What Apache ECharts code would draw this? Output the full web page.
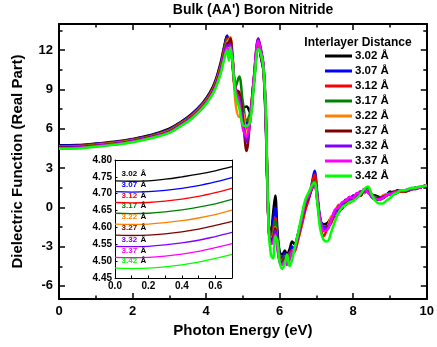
<!DOCTYPE html>
<html><head><meta charset="utf-8">
<script src="https://cdn.jsdelivr.net/npm/echarts@6/dist/echarts.min.js"></script>
<style>html,body{margin:0;padding:0;background:#fff}#c{width:437px;height:347px}</style>
</head><body><div id="c"></div>
<script>
const seriesNames = ['3.02 Å','3.07 Å','3.12 Å','3.17 Å','3.22 Å','3.27 Å','3.32 Å','3.37 Å','3.42 Å'];
const seriesShort = ['3.02','3.07','3.12','3.17','3.22','3.27','3.32','3.37','3.42'];
const colors = ['#000000','#0000ff','#ff0000','#008000','#ff8000','#800000','#8000ff','#ff00ff','#00ff00'];

const energy = [0,0.5,1,1.5,2,2.5,3, 3.3,3.6,3.9,4.1,4.25,4.4,4.5, 4.57,4.62,4.66,4.72,4.8,4.9,5.0,
  5.1,5.2,5.3,5.42,5.5,5.56,5.62, 5.7,5.76,5.82,5.88,5.94,6.0,6.07, 6.14,6.2,6.27,6.34,6.4,6.5,6.6,
  6.7,6.8,6.88,6.95,7.02,7.1,7.2, 7.3,7.4,7.5,7.6,7.7,7.8,7.9, 8.0,8.1,8.2,8.3,8.4,8.5,8.6,
  8.7,8.8,8.9,9.0,9.1,9.2,9.3, 9.4,9.5,9.6,9.7,9.8,9.9,10];

const eps302 = [4.74,4.76,4.87,5.01,5.22,5.52,6.00, 6.50,7.12,7.95,8.75,9.65,11.1,12.4, 13.1,12.5,12.6,11.0,8.8,8.0,7.6,
  7.7,7.2,9.5,12.5,11.3,10.4,6.5, -1.2,-2.0,-0.5,0.9,-1.8,-3.4,-3.6, -3.3,-3.6,-3.2,-2.6,-2.8,-2.0,-0.8,
  0.4,0.9,1.6,2.2,0.8,-1.0,-1.3, -1.2,-0.8,-0.7,-0.2,-0.1,0.4,0.5, 0.8,0.8,1.2,1.1,1.5,1.0,0.9,
  0.8,0.7,0.9,1.2,1.1,1.3,1.2, 1.2,1.3,1.4,1.5,1.5,1.6,1.7];
const eps307 = [4.71,4.72,4.84,4.98,5.19,5.49,5.96, 6.46,7.07,7.9,8.68,9.55,10.95,12.3, 13.1,12.4,12.5,10.8,8.9,8.6,7.4,
  6.4,7.0,9.6,12.5,11.4,10.5,6.8, -1.3,-2.3,-1.0,0.0,-2.2,-3.6,-3.9, -3.5,-3.8,-3.4,-3.0,-3.2,-2.3,-1.2,
  0.0,0.8,1.9,2.8,1.2,-0.8,-1.5, -1.4,-1.0,-0.4,-0.4,0.2,0.2,0.6, 0.5,1.0,0.9,1.4,1.3,0.9,0.6,
  0.6,0.7,1.0,1.1,1.0,1.1,1.3, 1.2,1.3,1.4,1.4,1.5,1.6,1.7];
const eps312 = [4.67,4.69,4.81,4.95,5.16,5.46,5.92, 6.42,7.02,7.85,8.62,9.5,10.85,12.2, 12.9,12.5,12.6,10.9,8.7,8.5,7.0,
  6.0,7.1,9.7,12.6,11.5,10.5,7.0, -1.5,-2.5,-1.8,-0.8,-2.6,-3.9,-4.0, -3.7,-4.0,-3.5,-3.3,-3.4,-2.5,-1.4,
  -0.2,0.7,1.8,2.5,1.0,-1.2,-2.2, -1.6,-1.2,-0.6,-0.4,0.1,0.2,0.6, 0.5,0.9,0.9,1.3,1.2,0.8,0.6,
  0.6,0.7,0.9,1.0,1.1,1.2,1.2, 1.2,1.3,1.4,1.4,1.5,1.6,1.7];
const eps317 = [4.64,4.66,4.78,4.92,5.13,5.43,5.88, 6.38,6.97,7.8,8.56,9.42,10.75,12.0, 12.8,12.6,12.7,11.2,9.2,10.0,8.0,
  6.6,7.3,9.8,12.6,11.6,10.6,7.2, -1.4,-2.4,-2.0,-1.0,-2.5,-3.8,-4.1, -3.8,-4.1,-3.6,-3.4,-3.3,-2.2,-1.0,
  0.3,1.0,1.6,2.0,0.8,-0.9,-1.8, -1.5,-0.9,-0.5,0.1,0.1,0.5,0.5, 0.9,0.9,1.2,1.1,1.4,1.0,0.8,
  0.7,0.8,0.9,1.1,1.1,1.2,1.3, 1.3,1.3,1.4,1.5,1.5,1.6,1.7];
const eps322 = [4.61,4.63,4.75,4.89,5.1,5.4,5.84, 6.34,6.92,7.75,8.5,9.35,10.65,11.9, 12.6,12.8,13.0,11.5,8.0,6.9,7.2,
  5.2,7.0,9.8,12.6,11.8,10.8,7.4, -1.3,-2.3,-2.2,-1.5,-2.8,-3.9,-4.3, -4.0,-4.2,-3.7,-3.5,-3.4,-2.4,-1.2,
  0.4,0.9,1.5,1.9,0.6,-1.0,-1.6, -1.5,-0.7,-0.6,0.2,0.1,0.4,0.3, 0.8,0.8,1.2,1.1,1.3,0.9,0.7,
  0.7,0.9,1.0,1.0,1.1,1.2,1.3, 1.2,1.3,1.4,1.5,1.5,1.6,1.7];
const eps327 = [4.58,4.6,4.72,4.86,5.07,5.37,5.8, 6.3,6.88,7.7,8.45,9.28,10.55,11.8, 12.5,12.6,12.9,11.4,9.0,8.8,6.8,
  4.3,6.8,9.9,12.9,11.9,10.7,7.3, -1.4,-2.5,-2.3,-1.6,-2.9,-4.0,-4.2, -3.9,-4.3,-3.8,-3.5,-3.3,-2.3,-1.1,
  0.2,0.8,1.4,1.8,0.6,-1.0,-1.7, -1.5,-1.1,-0.4,-0.2,0.3,0.3,0.7, 0.6,1.0,0.9,1.3,1.2,1.0,0.7,
  0.7,0.8,0.9,1.0,1.2,1.2,1.3, 1.2,1.3,1.4,1.5,1.5,1.6,1.7];
const eps332 = [4.54,4.56,4.69,4.83,5.04,5.34,5.76, 6.26,6.84,7.65,8.4,9.2,10.45,11.7, 12.4,12.3,12.5,11.3,8.8,8.3,6.5,
  5.0,6.7,9.9,12.9,11.9,10.8,7.3, -1.5,-2.7,-2.5,-1.8,-3.0,-4.1,-4.3, -4.0,-4.3,-3.9,-3.4,-3.3,-2.2,-1.0,
  0.3,0.9,1.5,1.9,0.7,-0.8,-1.6, -1.6,-0.9,-0.5,0.1,0.2,0.6,0.5, 0.9,0.9,1.2,1.2,1.2,0.8,0.6,
  0.6,0.8,0.9,1.0,1.1,1.2,1.3, 1.3,1.3,1.4,1.5,1.5,1.6,1.7];
const eps337 = [4.51,4.53,4.66,4.8,5.01,5.31,5.72, 6.22,6.8,7.6,8.35,9.12,10.35,11.55, 12.2,11.6,12.3,11.2,9.0,8.0,6.0,
  5.4,6.6,9.8,12.7,11.8,10.9,7.5, -1.5,-2.8,-2.7,-2.1,-3.2,-4.2,-4.4, -4.1,-4.4,-4.0,-3.4,-3.3,-2.1,-0.9,
  0.4,1.0,1.5,1.8,0.8,-0.9,-1.8, -1.7,-1.0,-0.2,0.0,0.4,0.5,0.8, 0.7,1.1,1.1,1.4,1.1,0.9,0.7,
  0.6,0.7,0.9,1.0,1.1,1.2,1.3, 1.3,1.4,1.4,1.5,1.5,1.6,1.7];
const eps342 = [4.48,4.5,4.63,4.77,4.97,5.27,5.68, 6.18,6.75,7.55,8.28,9.05,10.25,11.4, 12.0,11.2,12.2,11.0,8.6,7.6,6.3,
  6.2,6.6,9.3,12.1,11.6,10.6,7.6, -1.6,-3.6,-3.9,-2.2,-2.6,-4.2,-4.7, -4.3,-3.6,-4.5,-4.0,-3.2,-2.0,-0.6,
  0.6,1.2,1.7,1.9,0.4,-1.6,-2.5, -2.6,-1.9,-1.1,-0.4,0.0,0.2,0.4, 0.5,0.7,1.0,1.4,1.6,1.0,0.5,
  0.3,0.3,0.5,0.7,1.0,1.1,1.3, 1.3,1.4,1.5,1.5,1.6,1.6,1.7];
const mainValues = [eps302,eps307,eps312,eps317,eps322,eps327,eps332,eps337,eps342];

const insetEnergy = [0,0.1,0.2,0.3,0.4,0.5,0.6,0.7];
const in302 = [4.738,4.737,4.738,4.743,4.750,4.758,4.768,4.780];
const in307 = [4.706,4.705,4.706,4.710,4.716,4.724,4.735,4.748];
const in312 = [4.674,4.673,4.674,4.678,4.684,4.692,4.703,4.716];
const in317 = [4.642,4.641,4.642,4.646,4.652,4.660,4.670,4.683];
const in322 = [4.610,4.609,4.610,4.614,4.620,4.628,4.638,4.651];
const in327 = [4.577,4.576,4.577,4.581,4.587,4.595,4.606,4.618];
const in332 = [4.544,4.543,4.544,4.548,4.554,4.562,4.573,4.585];
const in337 = [4.511,4.510,4.511,4.515,4.521,4.529,4.540,4.552];
const in342 = [4.479,4.478,4.479,4.483,4.489,4.497,4.508,4.520];
const insetValues = [in302,in307,in312,in317,in322,in327,in332,in337,in342];

const yMajorTicks = [-6,-3,0,3,6,9,12];
const yMinorTicks = [-4.5,-1.5,1.5,4.5,7.5,10.5,13.5];
const insetXLabels = [0,0.2,0.4,0.6];
const insetXTicks = [0,0.1,0.2,0.3,0.4,0.5,0.6,0.7];
const insetYTicks = [4.45,4.50,4.55,4.60,4.65,4.70,4.75,4.80];

const FONT = 'Liberation Sans, Arial, sans-serif';
const chart = echarts.init(document.getElementById('c'), null, {renderer:'canvas'});
const black = '#000';
const lab = {fontFamily: FONT, fontWeight: 'bold', color: black};

function mainX(pos, labels) {
  return {type:'value', gridIndex:0, position:pos, min:0, max:10, interval:2,
    axisLine:{show:true, onZero:false, lineStyle:{color:black, width:2}},
    axisTick:{show:true, inside:true, length:6, lineStyle:{color:black, width:1.5}},
    minorTick:{show:true, splitNumber:2, length:3.5, lineStyle:{color:black, width:1.5}},
    axisLabel: labels ? Object.assign({show:true, fontSize:13, margin:6}, lab) : {show:false},
    splitLine:{show:false},
    name: labels ? 'Photon Energy (eV)' : '', nameLocation:'middle', nameGap:22,
    nameTextStyle: Object.assign({fontSize:15}, lab)};
}
function mainY(pos, ticks, len, labels, line) {
  return {type:'value', gridIndex:0, position:pos, min:-7, max:14,
    axisLine:{show:line, onZero:false, lineStyle:{color:black, width:2}},
    axisTick:{show:true, inside:true, length:len, customValues:ticks, lineStyle:{color:black, width:1.5}},
    axisLabel: labels ? Object.assign({show:true, fontSize:13, margin:6, customValues:ticks}, lab) : {show:false},
    splitLine:{show:false},
    name: labels ? 'Dielectric Function (Real Part)' : '', nameLocation:'middle', nameGap:34,
    nameTextStyle: Object.assign({fontSize:15}, lab)};
}

const series = [];
mainValues.forEach((vals, i) => {
  series.push({type:'line', name:seriesNames[i], xAxisIndex:0, yAxisIndex:0,
    data: energy.map((e, k) => [e, vals[k]]), showSymbol:false, smooth:0.35,
    lineStyle:{color:colors[i], width:2.5}, itemStyle:{color:colors[i]}, z:2+i});
});
insetValues.forEach((vals, i) => {
  series.push({type:'line', name:'inset '+seriesShort[i], xAxisIndex:2, yAxisIndex:4,
    data: insetEnergy.map((e, k) => [e, vals[k]]), showSymbol:false, smooth:0.4,
    lineStyle:{color:colors[i], width:1.3}, itemStyle:{color:colors[i]}, z:20,
    markPoint:{symbol:'circle', symbolSize:1, silent:true, animation:false, z:40,
      itemStyle:{color:'rgba(0,0,0,0)'},
      data:[{coord:[0.036, vals[0]]}],
      label:{show:true, position:'right', distance:0, offset:[0,-7],
        formatter:'{n|'+seriesShort[i]+'} {a|Å}',
        rich:{n:{color:colors[i], fontSize:8, fontWeight:'bold', fontFamily:FONT},
              a:{color:black, fontSize:8, fontWeight:'bold', fontFamily:FONT}}}}});
});

const option = {
  animation:false,
  backgroundColor:'#fff',
  title:[
    {text:"Bulk (AA') Boron Nitride", left:253, top:3, padding:0, textAlign:'center',
      textStyle:Object.assign({fontSize:14}, lab)},
    {text:'Interlayer Distance', left:358, top:37, padding:0, textAlign:'center',
      textStyle:Object.assign({fontSize:12}, lab)}
  ],
  legend:{data:seriesNames, orient:'vertical', left:325, top:50, padding:0, icon:'rect',
    itemWidth:27, itemHeight:3, itemGap:3, selectedMode:false,
    textStyle:Object.assign({fontSize:11.5, padding:[0,0,0,-2]}, lab)},
  grid:[
    {left:59, right:5, top:24, bottom:48, show:false},
    {left:115, top:160, width:117, height:118, show:true, backgroundColor:'#fff', borderWidth:0}
  ],
  xAxis:[
    mainX('bottom', true),
    mainX('top', false),
    {type:'value', gridIndex:1, position:'bottom', min:0, max:0.7, z:12,
      axisLine:{show:true, onZero:false, lineStyle:{color:black, width:1}},
      axisTick:{show:true, inside:true, length:2.5, customValues:insetXTicks, lineStyle:{color:black}},
      axisLabel:Object.assign({show:true, fontSize:10, margin:3, customValues:insetXLabels,
        formatter:v => v.toFixed(1)}, lab),
      splitLine:{show:false}},
    {type:'value', gridIndex:1, position:'top', min:0, max:0.7, z:12,
      axisLine:{show:true, onZero:false, lineStyle:{color:black, width:1}},
      axisTick:{show:false}, axisLabel:{show:false}, splitLine:{show:false}}
  ],
  yAxis:[
    mainY('left', yMajorTicks, 6, true, true),
    mainY('left', yMinorTicks, 3.5, false, false),
    mainY('right', yMajorTicks, 6, false, true),
    mainY('right', yMinorTicks, 3.5, false, false),
    {type:'value', gridIndex:1, position:'left', min:4.45, max:4.80, z:12,
      axisLine:{show:true, onZero:false, lineStyle:{color:black, width:1}},
      axisTick:{show:true, inside:true, length:2.5, customValues:insetYTicks, lineStyle:{color:black}},
      axisLabel:Object.assign({show:true, fontSize:10, margin:3, customValues:insetYTicks,
        formatter:v => v.toFixed(2)}, lab),
      splitLine:{show:false}},
    {type:'value', gridIndex:1, position:'right', min:4.45, max:4.80, z:12,
      axisLine:{show:true, onZero:false, lineStyle:{color:black, width:1}},
      axisTick:{show:false}, axisLabel:{show:false}, splitLine:{show:false}}
  ],
  series: series
};
chart.setOption(option);
</script></body></html>
